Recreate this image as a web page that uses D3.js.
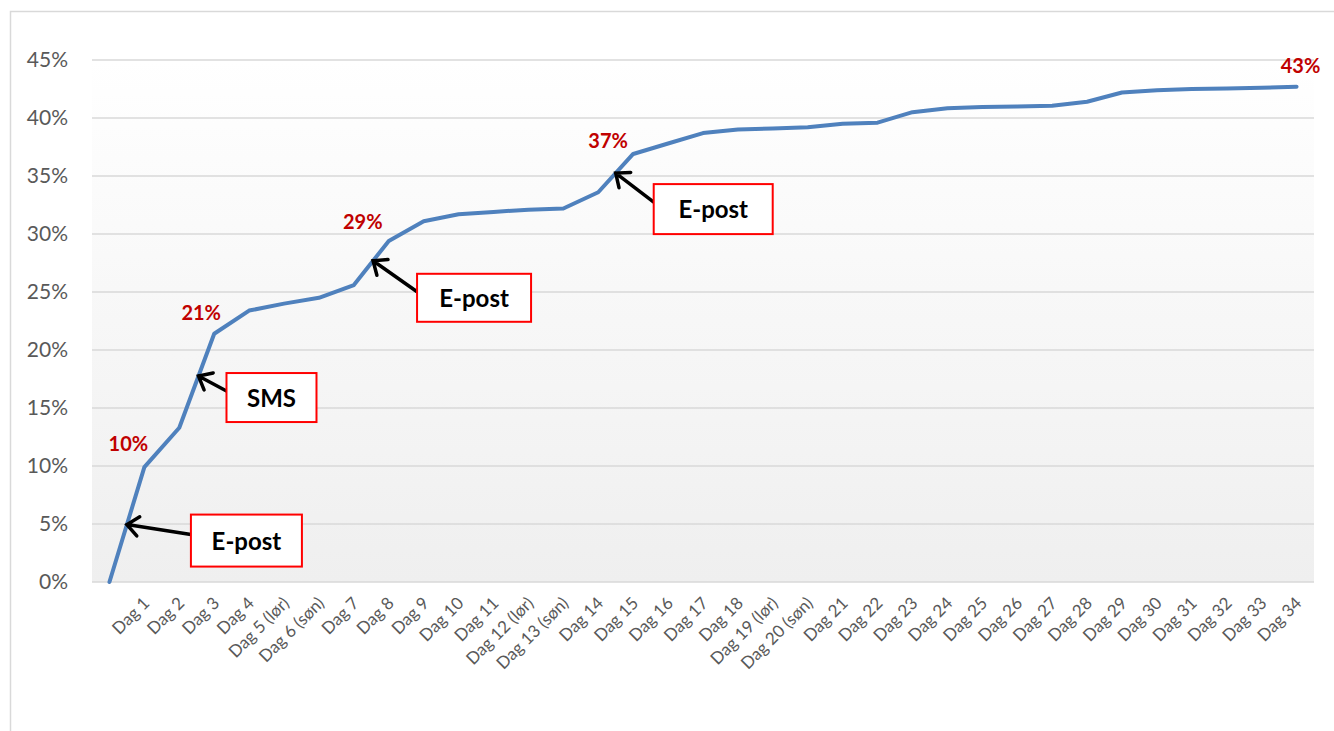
<!DOCTYPE html>
<html>
<head>
<meta charset="utf-8">
<script src="https://cdn.jsdelivr.net/npm/d3@7"></script>
<style>
  body { margin: 0; background: #fff; }
  svg { display: block; font-family: Lato, "Open Sans", sans-serif; }
</style>
</head>
<body>
<div id="chart"></div>
<script>
// categories (first one is the starting point, no label)
var days = ["", "Dag 1", "Dag 2", "Dag 3", "Dag 4", "Dag 5 (lør)", "Dag 6 (søn)", "Dag 7",
  "Dag 8", "Dag 9", "Dag 10", "Dag 11", "Dag 12 (lør)", "Dag 13 (søn)", "Dag 14", "Dag 15",
  "Dag 16", "Dag 17", "Dag 18", "Dag 19 (lør)", "Dag 20 (søn)", "Dag 21", "Dag 22", "Dag 23",
  "Dag 24", "Dag 25", "Dag 26", "Dag 27", "Dag 28", "Dag 29", "Dag 30", "Dag 31", "Dag 32",
  "Dag 33", "Dag 34"];

// cumulative share, in percent
var share = [0, 9.9, 13.3, 21.4, 23.4, 24.0, 24.5, 25.6, 29.4, 31.1, 31.7, 31.9, 32.1, 32.2,
  33.6, 36.9, 37.8, 38.7, 39.0, 39.1, 39.2, 39.5, 39.6, 40.5, 40.85, 40.95, 41.0, 41.05,
  41.4, 42.2, 42.4, 42.5, 42.55, 42.6, 42.7];

var yTicks = [0, 5, 10, 15, 20, 25, 30, 35, 40, 45];

// which points get a value label
var labelled = [1, 3, 8, 15, 34];

// callouts: text and where on the line (fractional category index) the arrow points
var notes = ["E-post", "SMS", "E-post", "E-post"];
var noteAt = [0.5, 2.55, 7.55, 14.5];

// ---- layout / style (not data) ----
var width = 1334, height = 731;
var plot = {left: 92, right: 1314, top: 60, bottom: 582};
var labelOffset = [[-16, -16], [-13, -14], [-26, -12], [-25, -6], [4, -14]];
var boxOffset = [[64, -10], [28, -3], [44, 13], [38, 11]];
var boxSize = [[111, 52], [90, 49], [114, 48], [119, 50]];
var tailY = [20, 18, 18, 18];

var svg = d3.select('#chart').append('svg')
  .attr('width', width)
  .attr('height', height);

// outer chart border
svg.append('rect')
  .attr('x', 10.5).attr('y', 11.5)
  .attr('width', 1400).attr('height', 800)
  .attr('fill', '#fff')
  .attr('stroke', '#d9d9d9')
  .attr('stroke-width', 1.5);

var defs = svg.append('defs');
var grad = defs.append('linearGradient')
  .attr('id', 'bg')
  .attr('x1', 0).attr('y1', 0).attr('x2', 0).attr('y2', 1);
grad.append('stop').attr('offset', '0%').attr('stop-color', '#ffffff');
grad.append('stop').attr('offset', '100%').attr('stop-color', '#efefef');

var x = d3.scaleBand()
  .domain(days.map(function(d, i) { return i; }))
  .range([plot.left, plot.right]);

var y = d3.scaleLinear()
  .domain([0, 45])
  .range([plot.bottom, plot.top]);

function xc(i) { return x(i) + x.bandwidth() / 2; }

// position along the line at a fractional index
function lineAt(t) {
  var i = Math.floor(t), f = t - i;
  var px = xc(i) + f * x.step();
  var v = share[i] + f * (share[i + 1] - share[i]);
  return [px, y(v)];
}

// plot background
svg.append('rect')
  .attr('x', plot.left).attr('y', plot.top)
  .attr('width', plot.right - plot.left)
  .attr('height', plot.bottom - plot.top)
  .attr('fill', 'url(#bg)');

// gridlines
svg.append('g')
  .selectAll('line')
  .data(yTicks)
  .join('line')
  .attr('x1', plot.left).attr('x2', plot.right)
  .attr('y1', function(d) { return y(d); })
  .attr('y2', function(d) { return y(d); })
  .attr('stroke', '#d9d9d9')
  .attr('stroke-width', 1.5);

// y axis labels
var yAxis = d3.axisLeft(y)
  .tickValues(yTicks)
  .tickFormat(function(d) { return d + '%'; })
  .tickSize(0)
  .tickPadding(24);
var yg = svg.append('g')
  .attr('transform', 'translate(' + plot.left + ',0)')
  .call(yAxis);
yg.select('.domain').remove();
yg.selectAll('text')
  .attr('fill', '#595959')
  .style('font-size', '21px')
  .style('font-family', 'Lato, sans-serif');

// x axis labels, rotated
var xAxis = d3.axisBottom(x)
  .tickFormat(function(i) { return days[i]; })
  .tickSize(0);
var xg = svg.append('g')
  .attr('transform', 'translate(0,' + plot.bottom + ')')
  .call(xAxis);
xg.select('.domain').remove();
xg.selectAll('text')
  .attr('fill', '#595959')
  .style('font-size', '17px')
  .style('font-family', 'Lato, sans-serif')
  .attr('text-anchor', 'end')
  .attr('y', 0)
  .attr('dy', '0.35em')
  .attr('transform', 'translate(2,18) rotate(-45)');

// the line
var line = d3.line()
  .x(function(d, i) { return xc(i); })
  .y(function(d) { return y(d); });

svg.append('path')
  .datum(share)
  .attr('fill', 'none')
  .attr('stroke', '#4f81bd')
  .attr('stroke-width', 4)
  .attr('stroke-linejoin', 'round')
  .attr('stroke-linecap', 'round')
  .attr('d', line);

// value labels
svg.append('g')
  .selectAll('text')
  .data(labelled)
  .join('text')
  .attr('x', function(d, k) { return xc(d) + labelOffset[k][0]; })
  .attr('y', function(d, k) { return y(share[d]) + labelOffset[k][1]; })
  .attr('text-anchor', 'middle')
  .attr('fill', '#c00000')
  .style('font-size', '20px')
  .style('font-weight', 'bold')
  .text(function(d) { return Math.round(share[d]) + '%'; });

// callouts with arrows
var callouts = svg.append('g')
  .selectAll('g')
  .data(notes)
  .join('g');

callouts.each(function(txt, k) {
  var g = d3.select(this);
  var tip = lineAt(noteAt[k]);
  var bx = tip[0] + boxOffset[k][0];
  var by = tip[1] + boxOffset[k][1];
  var bw = boxSize[k][0], bh = boxSize[k][1];
  var tail = [bx, by + tailY[k]];

  var ang = Math.atan2(tail[1] - tip[1], tail[0] - tip[0]);
  var len = 15, spread = Math.PI / 4.5;
  var a1 = [tip[0] + len * Math.cos(ang + spread), tip[1] + len * Math.sin(ang + spread)];
  var a2 = [tip[0] + len * Math.cos(ang - spread), tip[1] + len * Math.sin(ang - spread)];

  g.append('path')
    .attr('d', 'M' + tail + 'L' + tip + 'M' + a1 + 'L' + tip + 'L' + a2)
    .attr('fill', 'none')
    .attr('stroke', '#000')
    .attr('stroke-width', 3.5)
    .attr('stroke-linecap', 'round');

  g.append('rect')
    .attr('x', bx).attr('y', by)
    .attr('width', bw).attr('height', bh)
    .attr('fill', '#fff')
    .attr('stroke', '#ff0000')
    .attr('stroke-width', 2);

  g.append('text')
    .attr('x', bx + bw / 2)
    .attr('y', by + bh / 2)
    .attr('dy', '0.38em')
    .attr('text-anchor', 'middle')
    .attr('fill', '#000')
    .style('font-size', '24px')
    .style('font-weight', 'bold')
    .text(txt);
});
</script>
</body>
</html>
